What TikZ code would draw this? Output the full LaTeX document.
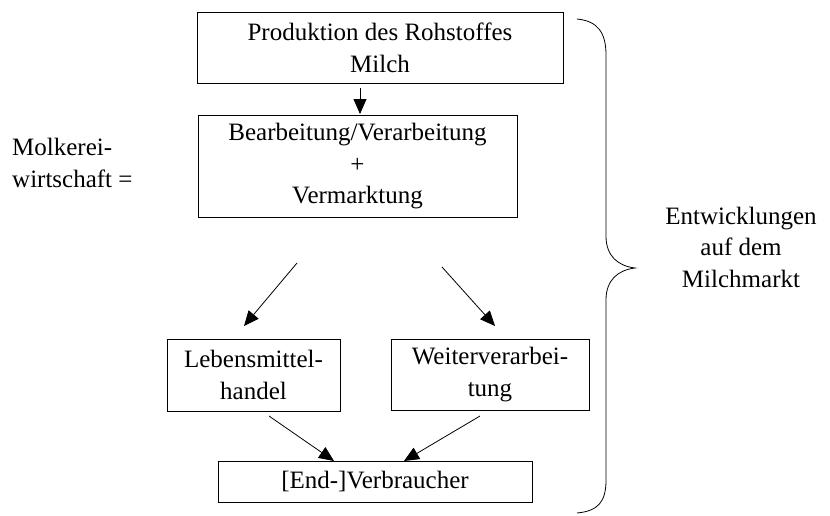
\documentclass[tikz,border=0pt]{standalone}
\usepackage{fontspec}
\setmainfont{Liberation Serif}
\usetikzlibrary{arrows.meta}
\begin{document}
\begin{tikzpicture}[x=1pt,y=-1pt,
  box/.style={draw,line width=0.8pt,align=center,inner sep=0pt,anchor=center,
    font=\fontsize{25}{31.5}\selectfont},
  lbl/.style={align=center,inner sep=0pt,font=\fontsize{25}{31.5}\selectfont},
  arr/.style={line width=0.8pt,-{Triangle[length=15pt,width=13pt]}}]
\useasboundingbox (0,0) rectangle (830,515);
\node[box,minimum width=366pt,minimum height=71pt] (b1) at (380,48) {Produktion des Rohstoffes\\Milch};
\node[box,minimum width=319pt,minimum height=102pt] (b2) at (357.5,166.5) {Bearbeitung/Verarbeitung\\+\\Vermarktung};
\node[box,minimum width=173pt,minimum height=72pt] (bl) at (253.5,375) {Lebensmittel-\\handel};
\node[box,minimum width=198pt,minimum height=71pt] (bw) at (490,374.5) {Weiterverarbei-\\tung};
\node[box,minimum width=314pt,minimum height=41pt] (be) at (375,481.5) {[End-]Verbraucher};
\node[lbl,align=left,anchor=base west] (mw) at (12,187) {Molkerei-\\wirtschaft =};
\node[lbl] (ew) at (741,247) {Entwicklungen\\auf dem\\Milchmarkt};
\coordinate (a1s) at (360,88);
\coordinate (a1e) at (360,114);
\coordinate (a2s) at (297,263);
\coordinate (a2e) at (244,326);
\coordinate (a3s) at (442,267);
\coordinate (a3e) at (495,326);
\coordinate (a4s) at (269,416);
\coordinate (a4e) at (334,461);
\coordinate (a5s) at (480,416);
\coordinate (a5e) at (404,461);
\draw[arr] (a1s) -- (a1e);
\draw[arr] (a2s) -- (a2e);
\draw[arr] (a3s) -- (a3e);
\draw[arr] (a4s) -- (a4e);
\draw[arr] (a5s) -- (a5e);
\draw[line width=0.8pt] (577,19) .. controls (598,21) and (606,33) .. (606,55)
  -- (606,236) .. controls (606,256) and (618,266) .. (635,268)
  .. controls (618,270) and (606,280) .. (606,300)
  -- (606,480) .. controls (606,502) and (598,511) .. (577,513);
\end{tikzpicture}
\end{document}
